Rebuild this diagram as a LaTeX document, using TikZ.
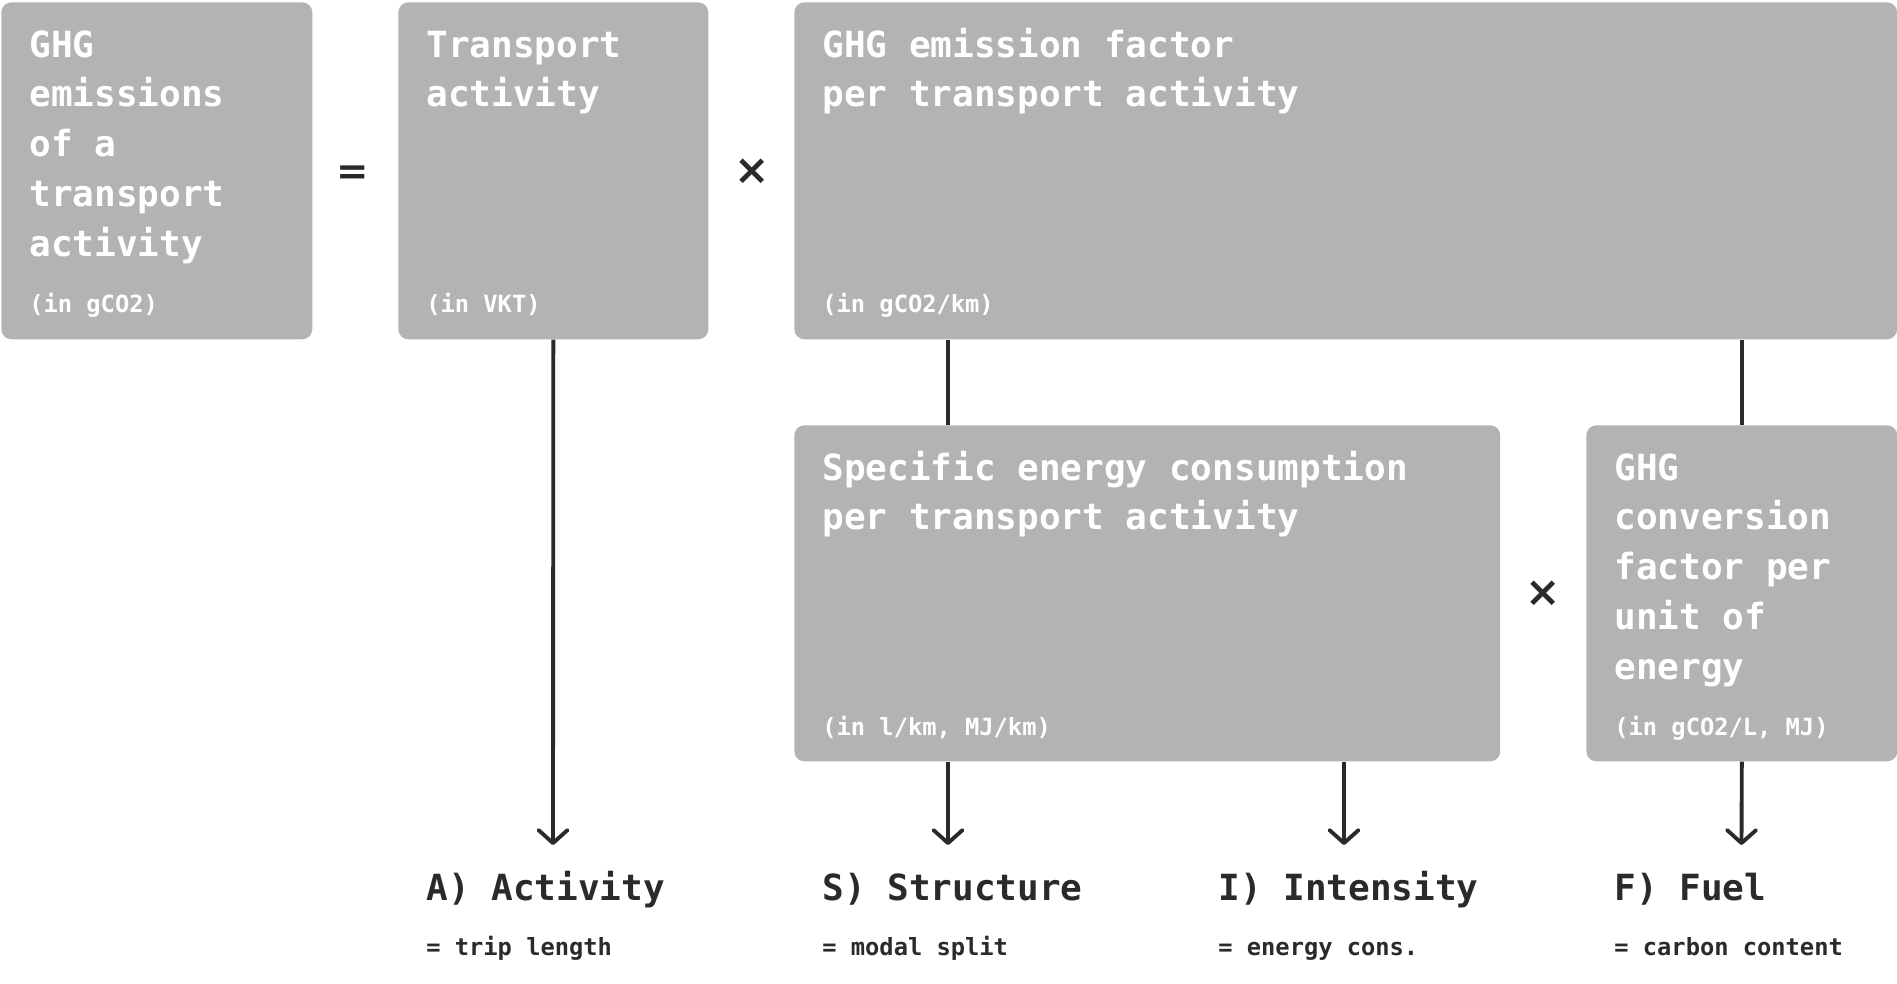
\documentclass[tikz,border=0pt]{standalone}
\usepackage{fontspec}
\setmonofont{DejaVu Sans Mono}
\newfontfamily\opfont{DejaVu Sans}
\usetikzlibrary{arrows.meta}
\definecolor{cBox}{HTML}{B3B3B3}
\definecolor{cInk}{HTML}{2A2A2A}
\newcommand{\monospace}{\spaceskip=0pt\xspaceskip=0pt\relax}
\tikzset{
  >={Straight Barb[length=2.6mm, width=5.8mm, round]},
  gbox/.style={fill=cBox, rounded corners=0.2cm, inner sep=0pt, anchor=north west},
  ttl/.style={anchor=base west, inner sep=0pt, text=white, align=left, text width=5.4cm,
              font=\fontsize{20.5}{28.45}\selectfont\ttfamily\bfseries,
              execute at begin node=\monospace},
  unit/.style={anchor=base west, inner sep=0pt, text=white,
               font=\fontsize{13.5}{16}\selectfont\ttfamily\bfseries},
  factor/.style={anchor=base west, inner sep=0pt, text=cInk,
                 font=\fontsize{20.5}{25}\selectfont\ttfamily\bfseries},
  note/.style={anchor=base west, inner sep=0pt, text=cInk,
               font=\fontsize{13.5}{16}\selectfont\ttfamily\bfseries},
  op/.style={inner sep=0pt, text=cInk, font=\fontsize{24}{24}\selectfont\opfont\bfseries},
  arr/.style={->, draw=cInk, line width=2.2pt},
  lnk/.style={draw=cInk, line width=2.2pt},
}

\begin{document}
\begin{tikzpicture}[x=0.02cm, y=-0.02cm]
    \useasboundingbox (0,0) rectangle (1897,984);
    \node[gbox, minimum width=6.22cm, minimum height=6.74cm] (emis) at (1,2) {};
    \node[gbox, minimum width=6.20cm, minimum height=6.74cm] (act) at (398,2) {};
    \node[gbox, minimum width=22.06cm, minimum height=6.74cm] (ef) at (794,2) {};
    \node[gbox, minimum width=14.12cm, minimum height=6.72cm] (sec) at (794,425) {};
    \node[gbox, minimum width=6.22cm, minimum height=6.72cm] (conv) at (1586,425) {};
    \node[ttl] (emisT) at (29,57) {GHG\\emissions\\of a\\transport\\activity};
    \node[unit] (emisU) at (29,312) {(in gCO2)};
    \node[ttl] (actT) at (426,57) {Transport\\activity};
    \node[unit] (actU) at (426,312) {(in VKT)};
    \node[ttl, text width=14cm] (efT) at (822,57) {GHG emission factor\\per transport activity};
    \node[unit] (efU) at (822,312) {(in gCO2/km)};
    \node[ttl, text width=13cm] (secT) at (822,480) {Specific energy consumption\\per transport activity};
    \node[unit] (secU) at (822,735) {(in l/km, MJ/km)};
    \node[ttl] (convT) at (1614,480) {GHG\\conversion\\factor per\\unit of\\energy};
    \node[unit] (convU) at (1614,735) {(in gCO2/L, MJ)};
    \node[op, font=\fontsize{22}{22}\selectfont\opfont\bfseries] (eq) at (353,175) {=};
    \node[op] (mulA) at (752,172) {×};
    \node[op] (mulB) at (1543,594) {×};
    \node[factor] (fA) at (426,900) {A) Activity};
    \node[note] (nA) at (426,955) {= trip length};
    \node[factor] (fS) at (822,900) {S) Structure};
    \node[note] (nS) at (822,955) {= modal split};
    \node[factor] (fI) at (1218,900) {I) Intensity};
    \node[note] (nI) at (1218,955) {= energy cons.};
    \node[factor] (fF) at (1614,900) {F) Fuel};
    \node[note] (nF) at (1614,955) {= carbon content};
    \coordinate (tA) at (553,845);
    \coordinate (tS) at (948,845);
    \coordinate (tI) at (1344,845);
    \coordinate (tF) at (1741.5,845);
    \draw[lnk] (ef.south -| tS) -- (sec.north -| tS);
    \draw[lnk] (ef.south -| conv.north) -- (conv.north);
    \draw[arr] (act.south) -- (tA);
    \draw[arr] (sec.south -| tS) -- (tS);
    \draw[arr] (sec.south -| tI) -- (tI);
    \draw[arr] (conv.south) -- (tF);
  \end{tikzpicture}
\end{document}
